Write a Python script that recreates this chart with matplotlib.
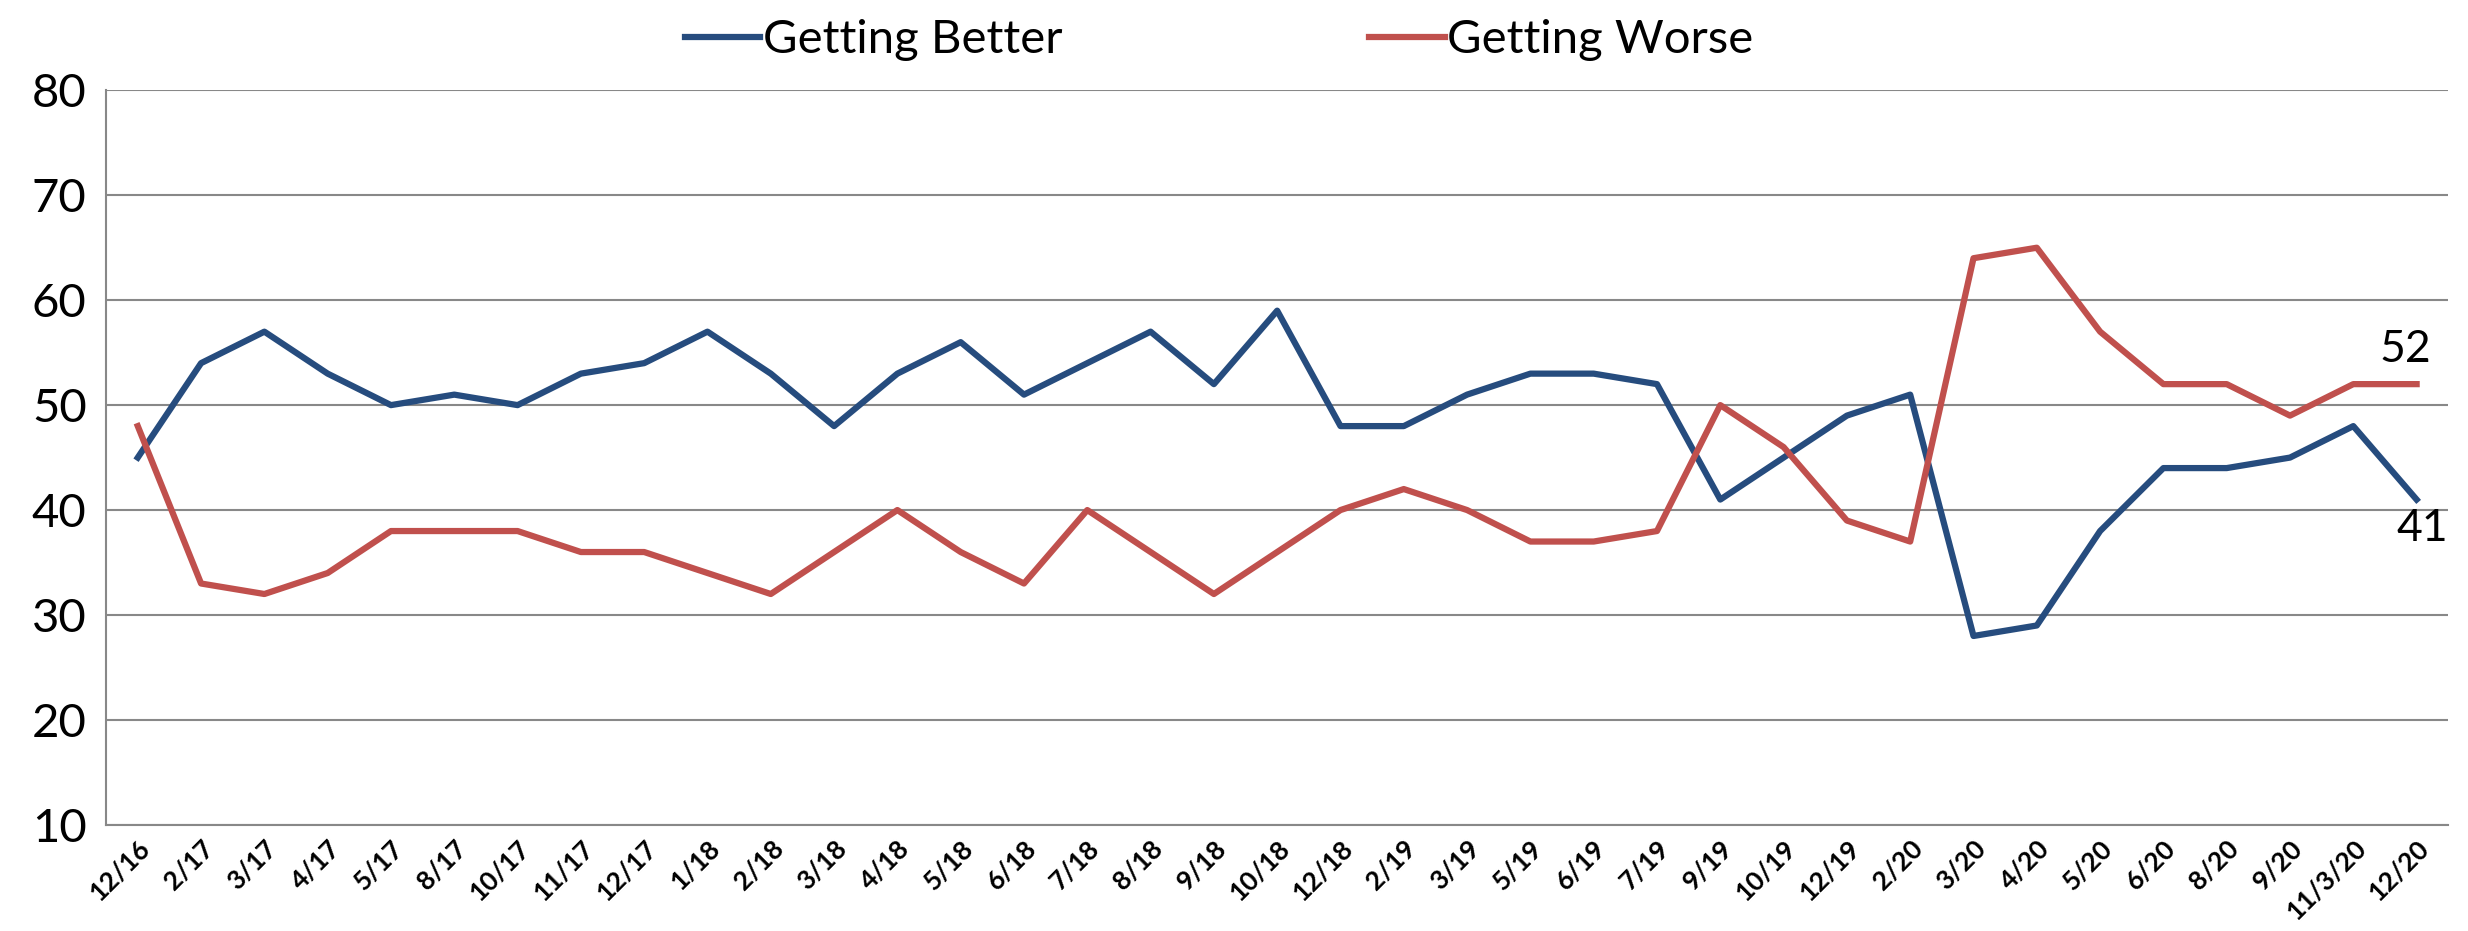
import matplotlib.pyplot as plt

# Data
dates = ['12/16', '2/17', '3/17', '4/17', '5/17', '8/17', '10/17', '11/17', '12/17',
         '1/18', '2/18', '3/18', '4/18', '5/18', '6/18', '7/18', '8/18', '9/18', '10/18',
         '12/18', '2/19', '3/19', '5/19', '6/19', '7/19', '9/19', '10/19', '12/19',
         '2/20', '3/20', '4/20', '5/20', '6/20', '8/20', '9/20', '11/3/20', '12/20']
getting_better = [45, 54, 57, 53, 50, 51, 50, 53, 54, 57, 53, 48, 53, 56, 51, 54, 57, 52, 59,
                  48, 48, 51, 53, 53, 52, 41, 45, 49, 51, 28, 29, 38, 44, 44, 45, 48, 41]
getting_worse = [48, 33, 32, 34, 38, 38, 38, 36, 36, 34, 32, 36, 40, 36, 33, 40, 36, 32, 36,
                 40, 42, 40, 37, 37, 38, 50, 46, 39, 37, 64, 65, 57, 52, 52, 49, 52, 52]

plt.rcParams['font.family'] = ['Lato', 'DejaVu Sans']

fig = plt.figure(figsize=(24.68, 9.31), dpi=100)
ax = fig.add_axes([0.043, 0.114, 0.949, 0.789])

x = range(len(dates))
ax.plot(x, getting_better, color='#264C7E', lw=4.5, label='Getting Better')
ax.plot(x, getting_worse, color='#C0504D', lw=4.5, label='Getting Worse')

# end labels
ax.annotate(str(getting_worse[-1]), (x[-1], getting_worse[-1]), xytext=(-8, 10),
            textcoords='offset points', ha='center', va='bottom', fontsize=32)
ax.annotate(str(getting_better[-1]), (x[-1], getting_better[-1]), xytext=(4, -6),
            textcoords='offset points', ha='center', va='top', fontsize=32)

ax.set_xlim(-0.5, len(dates) - 0.5)
ax.set_ylim(10, 80)
ax.set_yticks(range(10, 81, 10))
ax.set_xticks(list(x))
ax.set_xticklabels(dates, rotation=45, ha='right', rotation_mode='anchor',
                   fontsize=19, fontweight='bold')
ax.tick_params(axis='y', labelsize=34, length=0, pad=14)
ax.tick_params(axis='x', length=0, pad=8)

ax.grid(axis='y', color='#888888', lw=1.5)
ax.set_axisbelow(True)
for s in ['top', 'right']:
    ax.spines[s].set_visible(False)
ax.spines['left'].set_color('#888888')
ax.spines['bottom'].set_color('#888888')
ax.spines['left'].set_linewidth(1.5)
ax.spines['bottom'].set_linewidth(1.5)

fig.legend(loc='upper center', bbox_to_anchor=(0.494, 1.025), ncol=2, frameon=False,
           fontsize=34, handlelength=1.6, handletextpad=0.05, columnspacing=6.5)

plt.savefig('out.png', dpi=100)
